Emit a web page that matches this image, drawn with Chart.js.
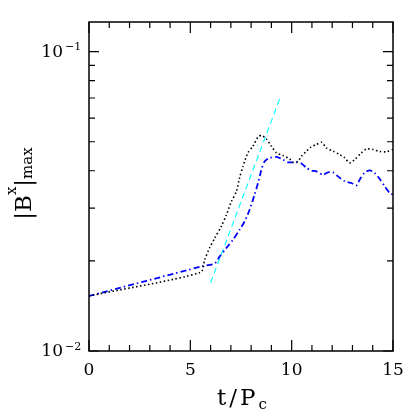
<!DOCTYPE html>
<html>
<head>
<meta charset="utf-8">
<script src="https://cdn.jsdelivr.net/npm/chart.js@4.4.1/dist/chart.umd.min.js"></script>
<style>
html, body { margin: 0; padding: 0; background: #fff; }
canvas { display: block; }
</style>
</head>
<body>
<canvas id="myChart" width="415" height="415"></canvas>
<script>
// black dotted curve
const tBlack = [0, 5.5, 5.71, 5.95, 6.2, 6.53, 6.78, 7.03, 7.27, 7.43, 7.6, 7.84, 8.09, 8.34, 8.51, 8.75, 9.0, 9.25, 9.57, 9.9, 10.06, 10.31, 10.48, 10.73, 10.97, 11.22, 11.47, 11.71, 12.04, 12.37, 12.61, 12.86, 13.11, 13.44, 13.69, 14.01, 14.34, 14.67, 15];
const bBlack = [0.01527, 0.0183, 0.0202, 0.0221, 0.0238, 0.0261, 0.0285, 0.0316, 0.0341, 0.0379, 0.0414, 0.0459, 0.0483, 0.0519, 0.0525, 0.0511, 0.0483, 0.0459, 0.045, 0.0438, 0.0427, 0.043, 0.0447, 0.0465, 0.0481, 0.0489, 0.0498, 0.0477, 0.0465, 0.0453, 0.0442, 0.0425, 0.0436, 0.0459, 0.0473, 0.0471, 0.0464, 0.0463, 0.0471];

// blue dash-dot curve
const tBlue = [0, 5.6, 6.2, 6.45, 6.78, 7.1, 7.43, 7.68, 7.93, 8.17, 8.34, 8.51, 8.67, 8.92, 9.25, 9.57, 9.82, 10.23, 10.48, 10.73, 10.97, 11.22, 11.54, 11.79, 12.04, 12.28, 12.61, 12.95, 13.19, 13.36, 13.6, 13.85, 14.09, 14.34, 14.59, 14.84, 15];
const bBlue = [0.01527, 0.0192, 0.0196, 0.0207, 0.0221, 0.0235, 0.0254, 0.0271, 0.0297, 0.0333, 0.0364, 0.0404, 0.043, 0.0442, 0.0445, 0.0436, 0.0427, 0.0427, 0.0423, 0.0409, 0.0401, 0.0398, 0.0388, 0.0395, 0.0395, 0.0383, 0.0369, 0.0364, 0.0357, 0.0374, 0.0394, 0.0401, 0.0394, 0.0376, 0.0355, 0.0337, 0.0333];

// cyan dashed fit line
const tFit = [6.0, 9.46];
const bFit = [0.0169, 0.071];

const xTicks = [0, 5, 10, 15];
const yTicks = [0.01, 0.1];
const yTickExp = ['\u22122', '\u22121'];

const serif = "'DejaVu Serif', 'Liberation Serif', serif";

function pts(xs, ys) {
  return xs.map((x, i) => ({ x: x, y: ys[i] }));
}

// frame, inward ticks, log labels and titles
const framePlugin = {
  id: 'frame',
  afterDraw(chart) {
    const ctx = chart.ctx;
    const a = chart.chartArea;
    const xs = chart.scales.x;
    const ys = chart.scales.y;
    ctx.save();
    ctx.strokeStyle = '#000';
    ctx.lineWidth = 1.5;
    ctx.strokeRect(a.left, a.top, a.right - a.left, a.bottom - a.top);

    ctx.lineWidth = 1.2;
    ctx.beginPath();
    for (let i = 0; i <= 15; i++) {
      const px = xs.getPixelForValue(i);
      const len = i % 5 === 0 ? 11 : 6;
      ctx.moveTo(px, a.bottom); ctx.lineTo(px, a.bottom - len);
      ctx.moveTo(px, a.top); ctx.lineTo(px, a.top + len);
    }
    for (let k = 1; k <= 10; k++) {
      const v = k * 0.01;
      const py = ys.getPixelForValue(v);
      const len = (k === 1 || k === 10) ? 10 : 6;
      ctx.moveTo(a.left, py); ctx.lineTo(a.left + len, py);
      ctx.moveTo(a.right, py); ctx.lineTo(a.right - len, py);
    }
    ctx.stroke();

    // y tick labels 10^-n
    ctx.fillStyle = '#000';
    ctx.textBaseline = 'middle';
    yTicks.forEach((v, i) => {
      const py = ys.getPixelForValue(v);
      ctx.font = '17px ' + serif;
      ctx.textAlign = 'right';
      ctx.fillText('10', 63, py + 1);
      ctx.font = '11px ' + serif;
      ctx.textAlign = 'left';
      ctx.fillText(yTickExp[i], 65, py - 4);
    });

    // x title t/P_c
    ctx.textBaseline = 'alphabetic';
    ctx.textAlign = 'left';
    ctx.font = '23px ' + serif;
    ctx.letterSpacing = '3px';
    const main = 't/P';
    const w1 = ctx.measureText(main).width;
    ctx.font = '15px ' + serif;
    ctx.letterSpacing = '0px';
    const w2 = ctx.measureText('c').width;
    const cx = (a.left + a.right) / 2 + 1;
    let x0 = cx - (w1 + w2) / 2;
    ctx.font = '23px ' + serif;
    ctx.letterSpacing = '3px';
    ctx.fillText(main, x0, 405);
    ctx.font = '15px ' + serif;
    ctx.letterSpacing = '0px';
    ctx.fillText('c', x0 + w1, 409);

    // y title |B^x|_max
    ctx.translate(31, (a.top + a.bottom) / 2 - 3);
    ctx.rotate(-Math.PI / 2);
    const parts = [
      { t: '|B', f: '23px ', dy: 0 },
      { t: 'x', f: '15px ', dy: -15 },
      { t: '|', f: '23px ', dy: 0 },
      { t: 'max', f: '15px ', dy: 1 }
    ];
    let total = 0;
    parts.forEach(p => { ctx.font = p.f + serif; p.w = ctx.measureText(p.t).width; total += p.w; });
    let px = -total / 2;
    parts.forEach(p => {
      ctx.font = p.f + serif;
      ctx.fillText(p.t, px, p.dy);
      px += p.w;
    });
    ctx.restore();
  }
};

const ctx = document.getElementById('myChart').getContext('2d');
const myChart = new Chart(ctx, {
  type: 'line',
  data: {
    datasets: [
      {
        label: 'black',
        data: pts(tBlack, bBlack),
        borderColor: '#000',
        borderWidth: 1.6,
        borderDash: [1.5, 2.5],
        pointRadius: 0,
        tension: 0.25,
        fill: false
      },
      {
        label: 'blue',
        data: pts(tBlue, bBlue),
        borderColor: '#0000ff',
        borderWidth: 1.8,
        borderDash: [6, 3, 1.5, 3],
        pointRadius: 0,
        tension: 0.25,
        fill: false
      },
      {
        label: 'fit',
        data: pts(tFit, bFit),
        borderColor: '#00ffff',
        borderWidth: 1.1,
        borderDash: [6, 4],
        pointRadius: 0,
        tension: 0,
        fill: false
      }
    ]
  },
  options: {
    responsive: false,
    animation: false,
    layout: { padding: { left: 0, right: 22, top: 22, bottom: 0 } },
    plugins: { legend: { display: false }, tooltip: { enabled: false } },
    scales: {
      x: {
        type: 'linear',
        min: 0,
        max: 15,
        grid: { display: false },
        border: { display: false },
        afterBuildTicks: s => { s.ticks = xTicks.map(v => ({ value: v })); },
        afterFit: s => { s.height = 64; },
        ticks: {
          color: '#000',
          padding: 1,
          maxRotation: 0,
          font: { family: serif, size: 17 }
        }
      },
      y: {
        type: 'logarithmic',
        min: 0.01,
        max: 0.1256,
        grid: { display: false },
        border: { display: false },
        afterBuildTicks: s => { s.ticks = yTicks.map(v => ({ value: v })); },
        afterFit: s => { s.width = 89; },
        ticks: { display: false }
      }
    }
  },
  plugins: [framePlugin]
});
</script>
</body>
</html>
